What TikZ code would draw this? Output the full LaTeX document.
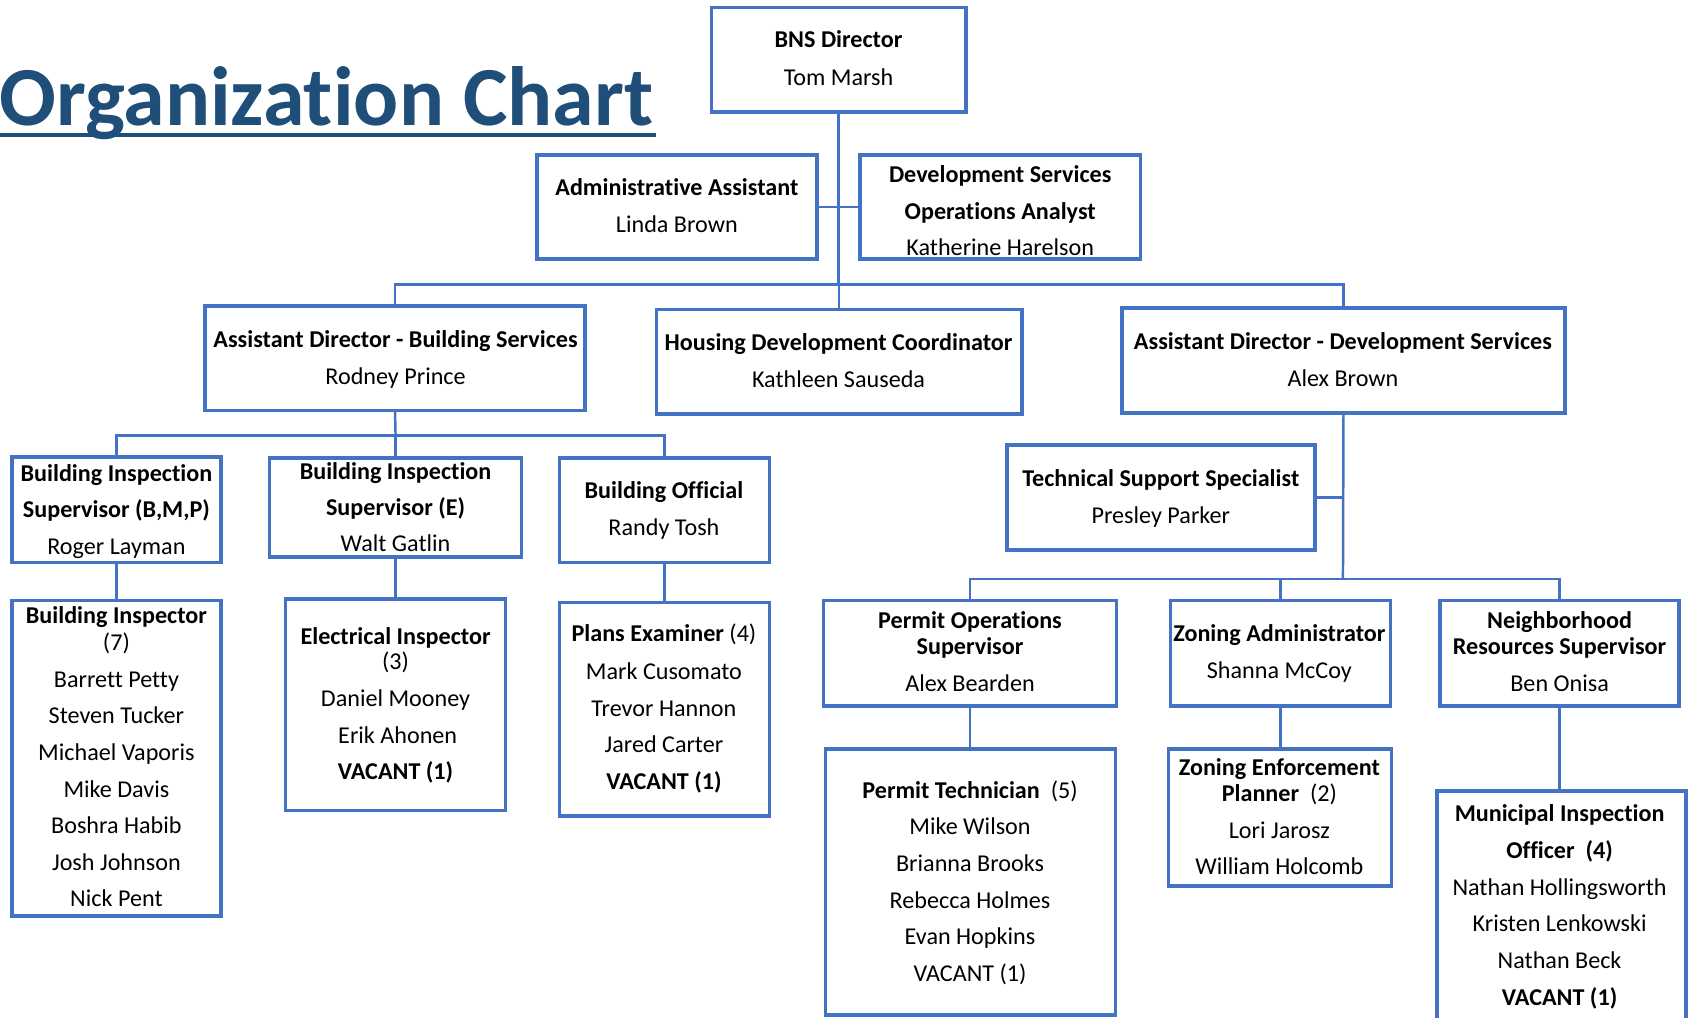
\documentclass[tikz,border=0pt]{standalone}
\usepackage{fontspec}
\setmainfont{Carlito}[Ligatures={TeX,NoCommon}]
\usetikzlibrary{fit}
\definecolor{bxc}{HTML}{4472C4}
\definecolor{ttlc}{HTML}{1F4E79}
\newcommand\tl[3]{\node[txt] at (#1,#2+7.5) {#3};}
\begin{document}
\begin{tikzpicture}[x=0.5pt,y=-0.5pt,
  box/.style={draw=bxc, line width=1.7pt, inner sep=0pt, outer sep=0pt},
  conn/.style={draw=bxc, line width=1.15pt},
  txt/.style={anchor=base, inner sep=0pt, font=\fontsize{11.2}{13}\selectfont}]
\useasboundingbox (0,0) rectangle (1568,944);
\clip (0,0) rectangle (1568,944);

% title
\node[anchor=base west, inner sep=0pt, text=ttlc, font=\fontsize{39}{39}\selectfont\bfseries] (title) at (-1,116) {Organization Chart};
\draw[ttlc, line width=1.7pt] (0,125.5) -- (609,125.5);

% boxes
\node[box, fit={(660,7) (896,104)}] (bns) {};
\node[box, fit={(498,144) (758,240)}] (aa) {};
\node[box, fit={(798,144) (1058,240)}] (dso) {};
\node[box, fit={(190,284) (543,381)}] (adbs) {};
\node[box, fit={(609,287) (948,384)}] (hdc) {};
\node[box, fit={(1041,286) (1452,383)}] (adds) {};
\node[box, fit={(11,424) (205,522)}] (bis1) {};
\node[box, fit={(250,425) (484,517)}] (bis2) {};
\node[box, fit={(519,425) (714,522)}] (bo) {};
\node[box, fit={(934,413) (1220,510)}] (tss) {};
\node[box, fit={(11,557) (205,850)}] (bi) {};
\node[box, fit={(265,556) (469,752)}] (ei) {};
\node[box, fit={(519,559) (714,757)}] (pe) {};
\node[box, fit={(764,557) (1036,655)}] (pos) {};
\node[box, fit={(1086,557) (1290,655)}] (za) {};
\node[box, fit={(1336,557) (1558,655)}] (nrs) {};
\node[box, fit={(766,695) (1035,942)}] (pt) {};
\node[box, fit={(1084,695) (1291,822)}] (zep) {};
\node[box, fit={(1333,734) (1564,970)}] (mio) {};

% connectors
\coordinate (j1) at (778,264);
\coordinate (j2) at (367,404);
\coordinate (j3) at (1246,537);
\draw[conn] (bns.south) -- (j1);
\draw[conn] (aa.east) -- (dso.west);
\draw[conn] (adbs.north) |- (j1) -| (adds.north);
\draw[conn] (hdc.north) -- (hdc.north |- j1);
\draw[conn] (adbs.south) -- (j2);
\draw[conn] (bis1.north) |- (j2) -| (bo.north);
\draw[conn] (bis2.north) -- (bis2.north |- j2);
\draw[conn] (bis1.south) -- (bis1.south |- bi.north);
\draw[conn] (bis2.south) -- (bis2.south |- ei.north);
\draw[conn] (bo.south) -- (bo.south |- pe.north);
\draw[conn] (adds.south) -- (j3);
\draw[conn] (tss.east) -- (tss.east -| j3);
\draw[conn] (pos.north) |- (j3) -| (nrs.north);
\draw[conn] (za.north) -- (za.north |- j3);
\draw[conn] (pos.south) -- (pos.south |- pt.north);
\draw[conn] (za.south) -- (za.south |- zep.north);
\draw[conn] (nrs.south) -- (nrs.south |- mio.north);

% texts
\tl{778}{37}{\textbf{BNS Director}}
\tl{778}{72}{Tom Marsh}
\tl{628}{174}{\textbf{Administrative Assistant}}
\tl{628}{208}{Linda Brown}
\tl{928}{162}{\textbf{Development Services}}
\tl{928}{196}{\textbf{Operations Analyst}}
\tl{928}{230}{Katherine Harelson}
\tl{367}{315}{\textbf{Assistant Director - Building Services}}
\tl{367}{349}{Rodney Prince}
\tl{778}{318}{\textbf{Housing Development Coordinator}}
\tl{778}{352}{Kathleen Sauseda}
\tl{1246}{317}{\textbf{Assistant Director - Development Services}}
\tl{1246}{351}{Alex Brown}
\tl{108}{439}{\textbf{Building Inspection}}
\tl{108}{473}{\textbf{Supervisor (B,M,P)}}
\tl{108}{507}{Roger Layman}
\tl{367}{437}{\textbf{Building Inspection}}
\tl{367}{471}{\textbf{Supervisor (E)}}
\tl{367}{504}{Walt Gatlin}
\tl{616}{455}{\textbf{Building Official}}
\tl{616}{489}{Randy Tosh}
\tl{1077}{444}{\textbf{Technical Support Specialist}}
\tl{1077}{478}{Presley Parker}
\tl{108}{571}{\textbf{Building Inspector}}
\tl{108}{596}{(7)}
\tl{108}{630}{Barrett Petty}
\tl{108}{664}{Steven Tucker}
\tl{108}{698}{Michael Vaporis}
\tl{108}{732}{Mike Davis}
\tl{108}{766}{Boshra Habib}
\tl{108}{800}{Josh Johnson}
\tl{108}{834}{Nick Pent}
\tl{367}{590}{\textbf{Electrical Inspector}}
\tl{367}{614}{(3)}
\tl{367}{648}{Daniel Mooney}
\tl{369}{682}{Erik Ahonen}
\tl{367}{716}{\textbf{VACANT (1)}}
\tl{616}{588}{\textbf{Plans Examiner} (4)}
\tl{616}{623}{Mark Cusomato}
\tl{616}{657}{Trevor Hannon}
\tl{616}{691}{Jared Carter}
\tl{616}{725}{\textbf{VACANT (1)}}
\tl{900}{576}{\textbf{Permit Operations}}
\tl{900}{600}{\textbf{Supervisor}}
\tl{900}{634}{Alex Bearden}
\tl{1187}{588}{\textbf{Zoning Administrator}}
\tl{1187}{622}{Shanna McCoy}
\tl{1447}{576}{\textbf{Neighborhood}}
\tl{1447}{600}{\textbf{Resources Supervisor}}
\tl{1447}{634}{Ben Onisa}
\tl{900}{733}{\textbf{Permit Technician}\ \ (5)}
\tl{900}{767}{Mike Wilson}
\tl{900}{801}{Brianna Brooks}
\tl{900}{835}{Rebecca Holmes}
\tl{900}{869}{Evan Hopkins}
\tl{900}{903}{VACANT (1)}
\tl{1187}{712}{\textbf{Zoning Enforcement}}
\tl{1187}{736}{\textbf{Planner}\ \ (2)}
\tl{1187}{770}{Lori Jarosz}
\tl{1187}{804}{William Holcomb}
\tl{1447}{755}{\textbf{Municipal Inspection}}
\tl{1447}{789}{\textbf{Officer\ \ (4)}}
\tl{1447}{823}{Nathan Hollingsworth}
\tl{1447}{857}{Kristen Lenkowski}
\tl{1447}{891}{Nathan Beck}
\tl{1447}{925}{\textbf{VACANT (1)}}
\end{tikzpicture}
\end{document}
